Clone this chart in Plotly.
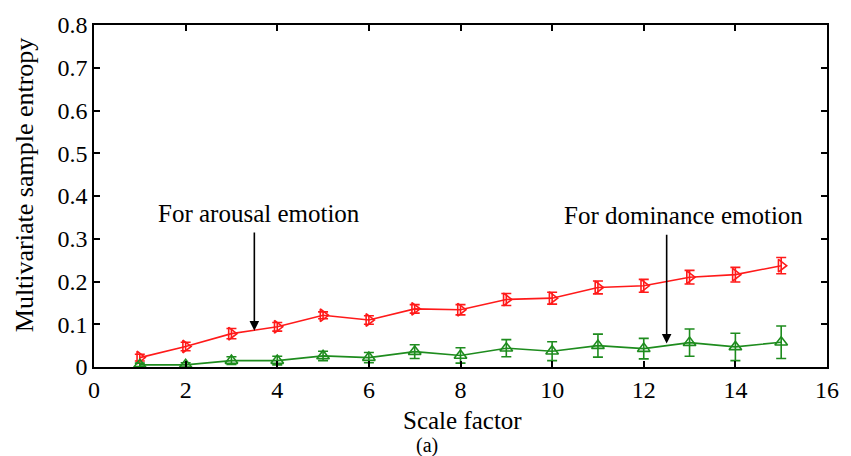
import plotly.graph_objects as go

scale = list(range(1, 16))
arousal = [0.022, 0.048, 0.078, 0.094, 0.121, 0.110, 0.136, 0.134, 0.158, 0.161, 0.186, 0.190, 0.210, 0.216, 0.237]
arousal_err = [0.008, 0.010, 0.012, 0.010, 0.008, 0.010, 0.010, 0.012, 0.014, 0.014, 0.015, 0.015, 0.016, 0.017, 0.019]
dominance = [0.005, 0.005, 0.015, 0.015, 0.026, 0.022, 0.036, 0.027, 0.044, 0.037, 0.050, 0.043, 0.057, 0.047, 0.058]
dominance_err = [0.004, 0.005, 0.009, 0.010, 0.011, 0.012, 0.016, 0.018, 0.020, 0.022, 0.027, 0.024, 0.032, 0.032, 0.038]

x_ticks = list(range(0, 17, 2))
x_tick_labels = [str(v) for v in x_ticks]
y_ticks = [0, 0.1, 0.2, 0.3, 0.4, 0.5, 0.6, 0.7, 0.8]
y_tick_labels = ["0", "0.1", "0.2", "0.3", "0.4", "0.5", "0.6", "0.7", "0.8"]

RED = "#ff1a1a"
GREEN = "#1e8c1e"
FONT = "Times New Roman"
TICK_FONT = dict(family=FONT, size=24, color="black")

fig = go.Figure()
fig.add_trace(go.Scatter(
    x=scale, y=arousal, mode="lines+markers",
    line=dict(color=RED, width=1.6),
    marker=dict(symbol="triangle-right-open", size=11, color=RED, line=dict(width=1.6, color=RED)),
    error_y=dict(type="data", array=arousal_err, color=RED, thickness=1.6, width=5),
    showlegend=False,
))
fig.add_trace(go.Scatter(
    x=scale, y=dominance, mode="lines+markers",
    line=dict(color=GREEN, width=1.6),
    marker=dict(symbol="triangle-up-open", size=11, color=GREEN, line=dict(width=1.6, color=GREEN)),
    error_y=dict(type="data", array=dominance_err, color=GREEN, thickness=1.6, width=5),
    showlegend=False,
))

# arrows
for (xa, ytop, ytip) in [(3.5, 0.318, 0.085), (12.5, 0.313, 0.055)]:
    fig.add_annotation(x=xa, y=ytip, ax=xa, ay=ytop, xref="x", yref="y", axref="x", ayref="y",
                       text="", showarrow=True, arrowhead=2, arrowsize=1.2, arrowwidth=1.6, arrowcolor="black")

fig.add_annotation(x=3.6, y=0.359, xref="x", yref="y", text="For arousal emotion", showarrow=False,
                   font=dict(family=FONT, size=25, color="black"), xanchor="center", yanchor="middle")
fig.add_annotation(x=12.86, y=0.355, xref="x", yref="y", text="For dominance emotion", showarrow=False,
                   font=dict(family=FONT, size=25, color="black"), xanchor="center", yanchor="middle")

# y title
fig.add_annotation(x=-70 / 742, y=0.534, xref="paper", yref="paper", text="Multivariate sample entropy",
                   textangle=-90, showarrow=False, font=dict(family=FONT, size=26, color="black"),
                   xanchor="center", yanchor="middle")
# x title and (a)
fig.add_annotation(x=(467.5 - 94) / 742, y=-55 / 350, xref="paper", yref="paper", text="Scale factor",
                   showarrow=False, font=dict(family=FONT, size=25, color="black"),
                   xanchor="center", yanchor="middle")
fig.add_annotation(x=(431 - 94) / 742, y=-80 / 350, xref="paper", yref="paper", text="(a)",
                   showarrow=False, font=dict(family=FONT, size=20, color="black"),
                   xanchor="center", yanchor="middle")

axis_common = dict(showline=True, linecolor="black", linewidth=1.5, mirror="ticks",
                   ticks="inside", ticklen=6, tickwidth=1.5, tickcolor="black",
                   showgrid=False, zeroline=False, tickfont=TICK_FONT)
fig.update_xaxes(range=[0, 16], tickmode="array", tickvals=x_ticks, ticktext=x_tick_labels, **axis_common)
fig.update_yaxes(range=[0, 0.8], tickmode="array", tickvals=y_ticks, ticktext=y_tick_labels, **axis_common)

fig.update_layout(
    width=851, height=456,
    margin=dict(l=94, r=15, t=17, b=89),
    plot_bgcolor="white", paper_bgcolor="white",
    font=dict(family=FONT, size=24, color="black"),
)
fig.write_html("out.html", config={"displayModeBar": False},
               post_script="document.body.style.margin='0';document.body.style.overflow='hidden';")
